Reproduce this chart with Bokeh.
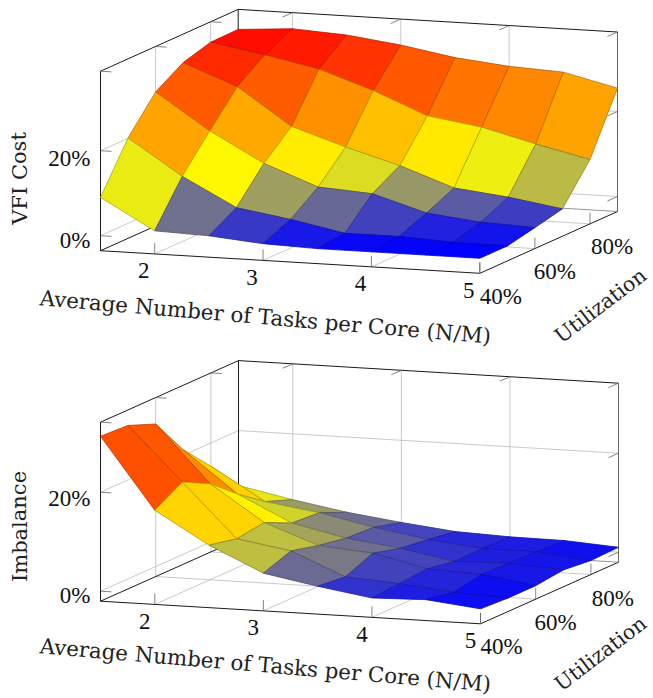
from bokeh.plotting import figure
from bokeh.models import Range1d, ColumnDataSource
from bokeh.core.properties import value
from bokeh.embed import file_html
from bokeh.resources import INLINE

# ---- data ----
tasks = [1.5, 2.0, 2.5, 3.0, 3.5, 4.0, 4.5, 5.0]
utilization = [40, 50, 60, 70, 80, 90]

cost_u40 = [9.0, 1.9, 1.5, 0.4, 0.0, 0.0, 0.0, 0.0]
cost_u50 = [20.1, 11.8, 5.2, 3.2, 0.7, 0.7, 0.1, 0.0]
cost_u60 = [28.0, 19.6, 12.7, 7.9, 7.1, 3.3, 1.9, 1.4]
cost_u70 = [32.0, 27.1, 18.5, 14.4, 10.8, 6.3, 4.9, 2.9]
cost_u80 = [33.9, 31.7, 29.1, 24.8, 19.6, 17.7, 14.5, 11.6]
cost_u90 = [34.0, 34.9, 34.2, 32.6, 30.4, 29.1, 28.5, 25.5]
cost = [cost_u40, cost_u50, cost_u60, cost_u70, cost_u80, cost_u90]

imb_u40 = [31.3, 17.0, 10.6, 5.6, 3.6, 1.9, 2.2, 1.0]
imb_u50 = [31.0, 20.2, 9.4, 7.6, 3.0, 2.3, 1.2, 0.7]
imb_u60 = [28.8, 17.4, 10.2, 6.2, 5.3, 2.8, 2.3, 0.7]
imb_u70 = [21.1, 12.8, 7.6, 5.2, 3.8, 1.8, 2.1, 1.4]
imb_u80 = [15.3, 8.8, 7.2, 4.9, 3.1, 1.9, 1.9, 0.8]
imb_u90 = [8.9, 6.7, 4.8, 3.4, 2.2, 1.8, 1.7, 1.0]
imbalance = [imb_u40, imb_u50, imb_u60, imb_u70, imb_u80, imb_u90]

x_ticks = [2, 3, 4, 5]
u_ticks = [40, 60, 80]
u_labels = ["40%", "60%", "80%"]
z_ticks = [0, 20]
z_labels = ["0%", "20%"]
x_label = "Average Number of Tasks per Core (N/M)"
u_label = "Utilization"

FONT = value("Liberation Serif")
TITLE_FONT = value("DejaVu Serif")
HOT = [(0, 0, 255), (255, 255, 0), (255, 127, 0), (255, 0, 0)]

p = figure(width=653, height=698, x_range=Range1d(0, 653), y_range=Range1d(698, 0),
           output_backend="svg", toolbar_location=None, min_border=0,
           outline_line_color=None, background_fill_color=None, border_fill_color=None)
p.axis.visible = False
p.grid.visible = False


def hot(t):
    t = max(0.0, min(1.0, t)) * 3
    k = min(int(t), 2)
    f = t - k
    return tuple(HOT[k][c] + (HOT[k + 1][c] - HOT[k][c]) * f for c in range(3))


def to_hex(c):
    return "#%02x%02x%02x" % tuple(int(round(v)) for v in c)


def panel(table, z_name, ox, oy, xr_x, xr_y, ur_x, ur_y, z_bottom, z_scale, height,
          label_off, xlab, ulab, tick_off, ulab_offs, zlab_offs):
    xmin, xmax = tasks[0], tasks[-1]
    umin, umax = utilization[0], utilization[-1]

    def P(x, u, z=None, lift=0.0):
        fx = (x - xmin) / (xmax - xmin)
        fu = (u - umin) / (umax - umin)
        sx = ox + fx * xr_x + fu * ur_x
        sy = oy + fx * xr_y + fu * ur_y
        if z is not None:
            sy -= z_bottom + z * z_scale
        return sx, sy - lift

    def seg(a, b, color, w):
        p.line([a[0], b[0]], [a[1], b[1]], line_color=color, line_width=w)

    GRID = "#bcbcbc"
    # grid: floor, left wall, back wall
    for x in x_ticks:
        if x < xmax:
            seg(P(x, umin), P(x, umax), GRID, 0.8)
            seg(P(x, umax), P(x, umax, lift=height), GRID, 0.8)
    for u in u_ticks[1:]:
        seg(P(xmin, u), P(xmax, u), GRID, 0.8)
        seg(P(xmin, u), P(xmin, u, lift=height), GRID, 0.8)
    for z in z_ticks:
        seg(P(xmin, umin, z), P(xmin, umax, z), GRID, 0.8)
        seg(P(xmin, umax, z), P(xmax, umax, z), GRID, 0.8)

    # box
    BOX = "#000000"
    seg(P(xmin, umin), P(xmax, umin), BOX, 0.9)
    seg(P(xmax, umin), P(xmax, umax), BOX, 0.9)
    seg(P(xmin, umin), P(xmin, umax), BOX, 0.9)
    seg(P(xmin, umax), P(xmax, umax), "#666666", 0.7)
    seg(P(xmin, umin), P(xmin, umin, lift=height), BOX, 0.9)
    seg(P(xmax, umax), P(xmax, umax, lift=height), "#555555", 0.9)
    seg(P(xmin, umax), P(xmin, umax, lift=height), BOX, 0.9)
    seg(P(xmin, umin, lift=height), P(xmin, umax, lift=height), BOX, 0.9)
    seg(P(xmin, umax, lift=height), P(xmax, umax, lift=height), BOX, 0.9)

    # ticks
    TICK = "#666666"
    L = 11.0
    ex_n = (xr_x ** 2 + xr_y ** 2) ** 0.5
    ey_n = (ur_x ** 2 + ur_y ** 2) ** 0.5
    dx = (L * xr_x / ex_n, L * xr_y / ex_n)
    du = (-L * ur_x / ey_n, -L * ur_y / ey_n)
    for x in x_ticks:
        a = P(x, umin)
        seg(a, (a[0], a[1] - L), TICK, 0.8)
        a = P(x, umax, lift=height)
        seg(a, (a[0] + du[0], a[1] + du[1]), TICK, 0.8)
    for u in u_ticks:
        a = P(xmax, u)
        seg(a, (a[0], a[1] - L), TICK, 0.8)
        a = P(xmin, u, lift=height)
        seg(a, (a[0] + dx[0], a[1] + dx[1]), TICK, 0.8)
    for z in z_ticks:
        a = P(xmin, umin, z)
        seg(a, (a[0] + dx[0], a[1] + dx[1]), TICK, 0.8)
        a = P(xmax, umax, z)
        seg(a, (a[0] + du[0], a[1] + du[1]), TICK, 0.8)

    # surface, back to front
    flat = [v for row in table for v in row]
    zlo, zhi = min(flat), max(flat)
    xs, ys, fills, edges = [], [], [], []
    for j in range(len(utilization) - 2, -1, -1):
        for i in range(len(tasks) - 1):
            corners = [(i, j), (i + 1, j), (i + 1, j + 1), (i, j + 1)]
            pts = [P(tasks[a], utilization[b], table[b][a]) for a, b in corners]
            mean = sum(table[b][a] for a, b in corners) / 4
            col = hot((mean - zlo) / (zhi - zlo))
            xs.append([q[0] for q in pts])
            ys.append([q[1] for q in pts])
            fills.append(to_hex(col))
            edges.append(to_hex(tuple(v * 0.72 for v in col)))
    p.patches("xs", "ys", fill_color="fills", line_color="edges", line_width=0.8,
              source=ColumnDataSource(dict(xs=xs, ys=ys, fills=fills, edges=edges)))

    # tick labels
    for x in x_ticks:
        a = P(x, umin)
        p.text([a[0] + tick_off[0]], [a[1] + tick_off[1]], text=[str(x)], text_font=FONT,
               text_font_size="23px", text_align="center", text_baseline="middle", text_color="#111111")
    for u, s, off in zip(u_ticks, u_labels, ulab_offs):
        a = P(xmax, u)
        p.text([a[0] + off[0]], [a[1] + off[1]], text=[s], text_font=FONT,
               text_font_size="23px", text_align="center", text_baseline="middle", text_color="#111111")
    for z, s, off in zip(z_ticks, z_labels, zlab_offs):
        a = P(xmin, umin, z)
        p.text([90], [a[1] + off], text=[s], text_font=FONT,
               text_font_size="23px", text_align="right", text_baseline="middle", text_color="#111111")

    # axis titles
    p.text([19], [label_off], text=[z_name], text_font=TITLE_FONT, text_font_size="21px", angle=1.5708,
           text_align="center", text_baseline="middle", text_color="#222222")
    p.text([xlab[0]], [xlab[1]], text=[x_label], text_font=TITLE_FONT, text_font_size="21.4px", angle=-0.085,
           text_align="center", text_baseline="middle", text_color="#222222")
    p.text([ulab[0]], [ulab[1]], text=[u_label], text_font=TITLE_FONT, text_font_size="20.5px", angle=0.65,
           text_align="center", text_baseline="middle", text_color="#222222")


panel(cost, "VFI Cost", 100.0, 250.2, 379.3, 22.6, 137.7, -61.8, 15.0, 4.25, 179.5,
      178, (265, 316.5), (600, 305), (-11, 17), [(21, 23), (20, 23), (22, 23)], [5, 8])
panel(imbalance, "Imbalance", 100.0, 600.7, 380.0, 22.6, 138.0, -61.6, 10.0, 4.95, 179.0,
      526, (265, 664.5), (600, 653), (-10, 17), [(21, 23), (20, 23), (22, 24)], [4.5, 6.5])

open("out.html", "w").write(file_html(p, INLINE))
